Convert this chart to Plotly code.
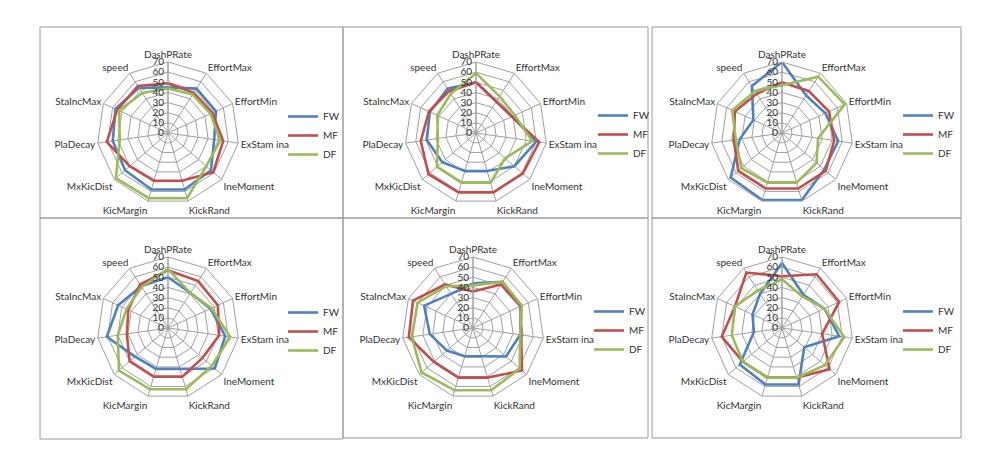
import plotly.graph_objects as go

# ---------------- data ----------------
categories = ["DashPRate", "EffortMax", "EffortMin", "ExStam ina", "IneMoment", "KickRand",
              "KicMargin", "MxKicDist", "PlaDecay", "StaIncMax", "speed"]
series_names = ["FW", "MF", "DF"]

p1_fw = [45, 52, 52, 46, 56, 58, 58, 56, 55, 57, 53]
p1_mf = [49, 47, 48, 55, 59, 49, 49, 50, 61, 55, 55]
p1_df = [44, 45, 46, 52, 50, 67, 67, 68, 48, 53, 47]

p2_fw = [50, 37, 39, 60, 50, 39, 39, 44, 49, 50, 52]
p2_mf = [50, 37, 39, 63, 61, 61, 61, 62, 55, 51, 49]
p2_df = [59, 43, 42, 56, 38, 51, 51, 51, 38, 42, 46]

p3_fw = [70, 44, 47, 56, 55, 69, 69, 67, 42, 31, 55]
p3_mf = [50, 49, 51, 52, 57, 57, 57, 57, 48, 51, 46]
p3_df = [47, 66, 68, 36, 45, 51, 51, 53, 46, 54, 49]

p4_fw = [50, 41, 46, 57, 61, 42, 42, 43, 61, 54, 49]
p4_mf = [57, 55, 54, 51, 45, 50, 50, 50, 41, 43, 51]
p4_df = [58, 41, 47, 62, 57, 63, 63, 64, 50, 45, 48]

p5_fw = [44, 54, 52, 47, 43, 29, 29, 34, 43, 53, 40]
p5_mf = [36, 51, 52, 48, 64, 51, 51, 51, 64, 65, 51]
p5_df = [42, 54, 53, 47, 61, 64, 64, 67, 61, 60, 49]

p6_fw = [64, 39, 46, 57, 29, 58, 58, 55, 28, 32, 40]
p6_mf = [51, 63, 62, 40, 62, 51, 51, 51, 60, 51, 65]
p6_df = [48, 37, 46, 62, 56, 51, 51, 51, 50, 51, 44]

radial_ticks = [0, 10, 20, 30, 40, 50, 60, 70]

panels = [
    [p1_fw, p1_mf, p1_df],
    [p2_fw, p2_mf, p2_df],
    [p3_fw, p3_mf, p3_df],
    [p4_fw, p4_mf, p4_df],
    [p5_fw, p5_mf, p5_df],
    [p6_fw, p6_mf, p6_df],
]

# ---------------- styling / layout ----------------
W, H = 996, 454
colors = ["#4F81BD", "#C0504D", "#9BBB59"]
grid_col = "#A0A0A0"
text_col = "#333333"
FONT = "Lato, 'Open Sans', sans-serif"

centers = [(168, 133), (476, 133), (782, 133), (168, 328), (473, 328), (782, 328)]
R = 71
boxes = [(40, 27, 343, 218), (343, 27, 648, 218), (652, 27, 961, 218),
         (40, 218, 343, 439), (343, 218, 648, 438), (652, 218, 961, 438)]
legend_pos = [(283, 102), (593, 101), (898, 101), (283, 298), (589, 297), (898, 297)]

fig = go.Figure()
layout_extra = {}
shapes = []

for k, vals in enumerate(panels):
    pname = "polar" if k == 0 else f"polar{k+1}"
    lname = "legend" if k == 0 else f"legend{k+1}"
    for name, v, c in zip(series_names, vals, colors):
        fig.add_trace(go.Scatterpolar(
            r=list(v) + [v[0]],
            theta=categories + [categories[0]],
            mode="lines",
            name=name,
            line=dict(color=c, width=2.6),
            subplot=pname,
            legend=lname,
            hoverinfo="skip",
        ))
    cx, cy = centers[k]
    layout_extra[pname] = dict(
        domain=dict(x=[(cx - R) / W, (cx + R) / W], y=[1 - (cy + R) / H, 1 - (cy - R) / H]),
        gridshape="linear",
        bgcolor="rgba(0,0,0,0)",
        angularaxis=dict(
            direction="clockwise", rotation=90,
            gridcolor=grid_col, linecolor=grid_col, showline=True,
            linewidth=1, gridwidth=1, ticks="",
            tickfont=dict(family=FONT, size=10, color=text_col),
        ),
        radialaxis=dict(
            range=[0, 70], tickvals=radial_ticks, angle=90, tickangle=90,
            side="counterclockwise",
            gridcolor=grid_col, linecolor=grid_col, showline=True,
            linewidth=1, gridwidth=1, ticks="",
            tickfont=dict(family=FONT, size=10, color=text_col),
        ),
    )
    lx, ly = legend_pos[k]
    layout_extra[lname] = dict(
        x=lx / W, y=1 - ly / H, xanchor="left", yanchor="top",
        bgcolor="rgba(0,0,0,0)", borderwidth=0,
        font=dict(family=FONT, size=10, color=text_col),
        itemwidth=30, tracegroupgap=0,
    )
    x0, y0, x1, y1 = boxes[k]
    shapes.append(dict(type="rect", xref="paper", yref="paper",
                       x0=x0 / W, x1=x1 / W, y0=1 - y1 / H, y1=1 - y0 / H,
                       line=dict(color="#9A9A9A", width=1)))

fig.update_layout(
    width=W, height=H,
    margin=dict(l=0, r=0, t=0, b=0),
    paper_bgcolor="white", plot_bgcolor="white",
    showlegend=True,
    shapes=shapes,
    font=dict(family=FONT, size=10, color=text_col),
    **layout_extra,
)

fig.write_html("out.html", config={"displayModeBar": False},
               post_script="document.body.style.margin='0';document.body.style.overflow='hidden';")
